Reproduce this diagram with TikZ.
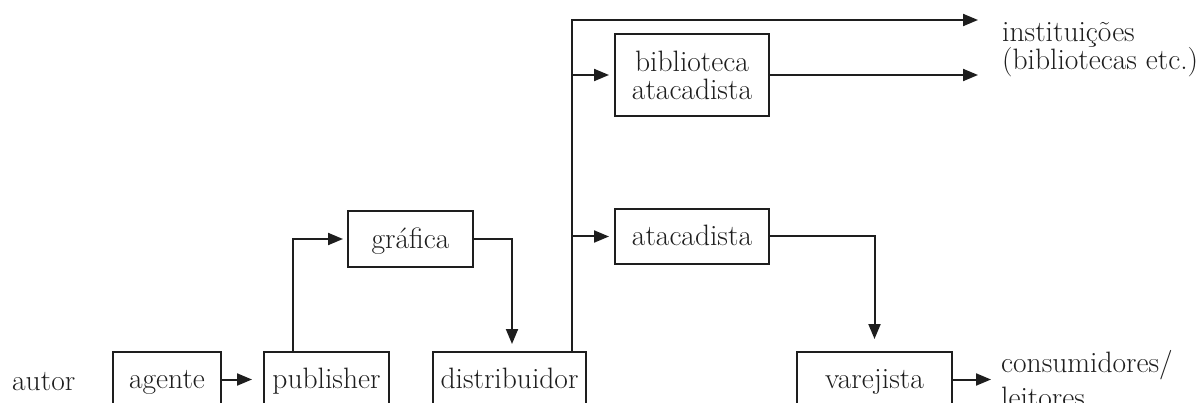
\documentclass[tikz,border=0pt]{standalone}
\usepackage{fontspec}
\usetikzlibrary{arrows.meta,calc}
\definecolor{ink}{RGB}{30,30,30}
\begin{document}
\begin{tikzpicture}[x=1pt,y=-1pt,
  lbl/.style={font=\fontsize{29.5}{28}\selectfont\addfontfeature{FakeBold=1.3}, text=ink, inner sep=0pt},
  box/.style={lbl, draw=ink, line width=2pt, rectangle, text height=22pt, text depth=4pt, minimum height=55pt},
  arr/.style={draw=ink, line width=2pt, -{Triangle[length=15pt,width=12pt]}}]
\clip (0,0) rectangle (1198,403);
\fill[white] (0,0) rectangle (1198,403);

\node[lbl, anchor=base west] (autor) at (12,390) {autor};
\node[box, minimum width=108pt] (agente) at (167,379.5) {agente};
\node[box, minimum width=125pt] (publisher) at (326.5,379.5) {publisher};
\node[box, minimum width=153pt] (distribuidor) at (509.5,379.5) {distribuidor};
\node[box, minimum width=155pt] (varejista) at (874.5,379.5) {varejista};
\node[box, minimum width=125pt] (grafica) at (410.5,239) {gráfica};
\node[box, minimum width=154pt] (atacadista) at (692,236.5) {atacadista};
\node[lbl, draw=ink, line width=2pt, minimum width=154pt, minimum height=82pt, align=center] (biblioteca) at (692,75) {biblioteca\\atacadista};

\node[lbl, anchor=north west, align=left] (inst) at (1002,22) {instituições\\(bibliotecas etc.)};
\node[lbl, anchor=north west, align=left] (cons) at (1001,350.5) {consumidores/\\[7pt]leitores};

\coordinate (t1) at (978,20);
\coordinate (t2) at (978,75);
\coordinate (c1) at (991,379.5);
\coordinate (px) at (293,0);
\coordinate (gx) at (512,0);
\coordinate (tx) at (572,0);

\draw[arr, shorten >=11pt] (agente.east) -- (publisher.west);
\draw[arr, shorten >=4pt] (publisher.north -| px) |- (grafica.west);
\draw[arr, shorten >=7pt] (grafica.east) -| (distribuidor.north -| gx);
\draw[arr] (distribuidor.north -| tx) |- (t1);
\draw[arr, shorten >=5pt] (tx |- biblioteca.west) -- (biblioteca.west);
\draw[arr, shorten >=5pt] (tx |- atacadista.west) -- (atacadista.west);
\draw[arr] (biblioteca.east) -- (t2);
\draw[arr, shorten >=12pt] (atacadista.east) -| (varejista.north);
\draw[arr] (varejista.east) -- (c1);
\end{tikzpicture}
\end{document}
